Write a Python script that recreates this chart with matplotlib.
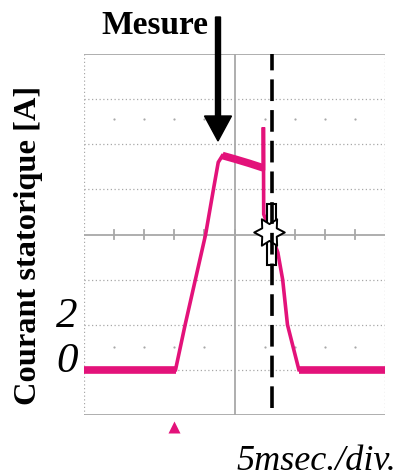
import matplotlib
matplotlib.use("Agg")
import numpy as np
import matplotlib.pyplot as plt
from matplotlib.patches import FancyArrow, Rectangle
from matplotlib.path import Path

# Oscilloscope trace: stator current (A) vs time (ms), 5 ms/div, 2 A/div
t_rise = [0.0, 15.2, 16.8, 18.5, 20.2, 21.5, 22.3, 23.0]
i_rise = [0.0, 0.0, 2.0, 4.0, 6.0, 8.0, 9.2, 9.5]
t_plateau = [23.0, 25.0, 27.5, 29.8]
i_plateau = [9.5, 9.35, 9.15, 8.95]
t_spike = [29.8, 29.8, 29.85]
i_spike = [8.95, 10.75, 6.9]
t_fall = [29.85, 32.2, 33.0, 33.8, 35.7, 50.0]
i_fall = [6.9, 5.2, 4.0, 2.0, 0.0, 0.0]

cursor_t = 31.2          # measurement cursor (ms)
marker_t, marker_i = 30.8, 6.1
trigger_t = 15.0

y_ticklabels = ["0", "2"]
y_tickvals = [0.0, 2.0]

W, H = 405, 477
fig = plt.figure(figsize=(W / 100, H / 100), dpi=100)
ax = fig.add_axes([84 / W, 1 - 416 / H, 301 / W, 361 / H])
ax.set_xlim(0, 50)
ax.set_ylim(-2, 14)
ax.axis("off")

pink = "#e3127a"
grid = "#a8a8a8"

# graticule
for y in [0, 2, 4, 8, 10, 12]:
    ax.plot([0, 50], [y, y], ls=(0, (1, 2)), color=grid, lw=0.9, zorder=1)
for y in [-2, 14]:
    ax.plot([0, 50], [y, y], color=grid, lw=1.3, zorder=1)
for x in [0, 50]:
    ax.plot([x, x], [-2, 14], ls=(0, (1, 2)), color=grid, lw=0.9, zorder=1)
ax.plot([0, 50], [6, 6], color=grid, lw=1.3, zorder=1)
ax.plot([25, 25], [-2, 14], color=grid, lw=1.3, zorder=1)
for x in range(5, 50, 5):
    ax.plot([x, x], [5.8, 6.2], color=grid, lw=1.3, zorder=1)
    if x != 25:
        ax.plot([x, x], [11.1, 1.0], ls="none", marker="o", ms=1.6,
                color=grid, mec="none", zorder=1)

# current trace
t_all = t_rise + t_plateau[1:] + t_spike[1:] + t_fall[1:]
i_all = i_rise + i_plateau[1:] + i_spike[1:] + i_fall[1:]
ax.plot(t_all, i_all, color=pink, lw=2.6, zorder=3, solid_joinstyle="miter")
ax.plot(t_rise[:2], i_rise[:2], color=pink, lw=5.5, zorder=3, solid_capstyle="butt")
ax.plot(t_plateau, i_plateau, color=pink, lw=5.5, zorder=3, solid_capstyle="butt")
ax.plot(t_fall[-2:], i_fall[-2:], color=pink, lw=5.5, zorder=3, solid_capstyle="butt")

# cursor glyph: white bar with a six-pointed star
ax.add_patch(Rectangle((30.4, 4.67), 1.45, 2.67, facecolor="white",
                       edgecolor="black", lw=1.5, zorder=4))
ang = np.deg2rad(np.arange(12) * 30.0)
rad = np.where(np.arange(12) % 2 == 0, 1.0, 0.55)
verts = np.column_stack([rad * np.cos(ang), rad * np.sin(ang)])
verts = np.vstack([verts, verts[:1]])
codes = [Path.MOVETO] + [Path.LINETO] * 11 + [Path.CLOSEPOLY]
star = Path(verts, codes)
ax.plot([marker_t], [marker_i], marker=star, ms=22, mfc="white",
        mec="black", mew=1.4, zorder=5)
ax.plot([cursor_t, cursor_t], [-1.7, 14], color="black", lw=2.6,
        ls=(0, (6, 2.5)), zorder=6)

# trigger marker below the screen
ax.plot([trigger_t], [-2.55], marker="^", ms=9, color=pink, mec="none",
        clip_on=False, zorder=3)

# texts
serif = ["Liberation Serif", "DejaVu Serif"]
fig.text(155 / W, 1 - 25 / H, "Mesure", family=serif, weight="bold",
         fontsize=24, ha="center", va="center")
fig.text(29 / W, 1 - 245 / H, "Courant statorique [A]", family=serif,
         weight="bold", fontsize=23.3, rotation=90, ha="center", va="center")
for lab, v in zip(y_ticklabels, y_tickvals):
    ypix = 372 - v * 22.5 - 10
    fig.text(67 / W, 1 - ypix / H, lab, family=serif, style="italic",
             fontsize=31, ha="center", va="center")
fig.text(316 / W, 1 - 462 / H, "5msec./div.", family=serif, style="italic",
         fontsize=26, ha="center", va="center")

arrow = FancyArrow(2.18, (H - 18) / 100, 0, -(142 - 18) / 100, width=0.05,
                   head_width=0.27, head_length=0.25,
                   length_includes_head=True, color="black",
                   transform=fig.dpi_scale_trans)
fig.add_artist(arrow)

fig.savefig("out.png", dpi=100)
